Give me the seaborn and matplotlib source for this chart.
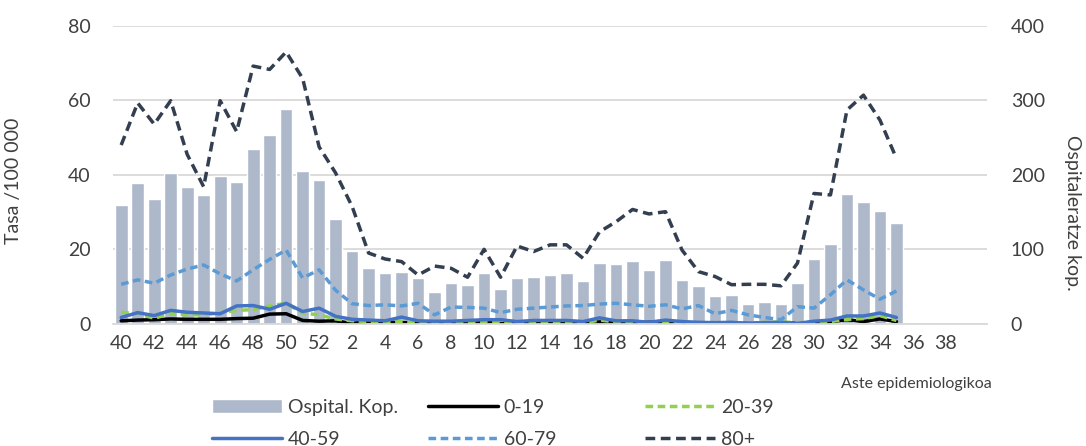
import numpy as np
import pandas as pd
import matplotlib
matplotlib.use('Agg')
import matplotlib.pyplot as plt
import seaborn as sns

# epidemiological weeks: 2020 w40-52, 2021 w1-39
weeks = [str(w) for w in list(range(40, 53)) + list(range(1, 40))]

# hospital admissions (right axis), weeks 40 .. 35
hosp = [160, 189, 167, 202, 184, 173, 198, 191, 235, 254, 289, 205, 193,
        141, 98, 75, 68, 70, 62, 43, 55, 52, 68, 47, 61, 63, 65, 68, 58,
        82, 80, 84, 72, 86, 59, 51, 37, 39, 27, 29, 27, 55, 87, 107, 174,
        164, 151, 136]

# rate per 100 000 by age group (left axis)
r0_19 = [0.8, 1, 1.1, 1.3, 1.2, 1.2, 1.2, 1.4, 1.5, 2.6, 2.7, 0.9, 0.7,
         0.8, 0.1, 0.6, 0.5, 0.3, 0.3, 0.1, 0.1, 0, 0.5, 0, 0.1, 0.1, 0.2,
         0.2, 0.1, 0.5, 0.4, 0.3, 0.4, 0.4, 0.3, 0.2, 0.1, 0.1, 0.1, 0.2,
         0.3, 0.1, 0.2, 0.5, 1.1, 0.6, 1.3, 0.6]
r20_39 = [3.1, 2.7, 1.5, 2.7, 2.4, 2.4, 3, 3.6, 3.8, 4.8, 5.5, 2.9, 2.4,
          1.3, 0.8, 0.6, 0.4, 0.6, 0.2, 0, 0, 0.2, 0.6, 0.3, 0, 0.2, 0.3,
          0.2, 0.2, 1, 0.5, 0.3, 0.2, 0.5, 0.3, 0.3, 0.3, 0.3, 0.1, 0.4,
          0.5, 0.3, 0.4, 0.6, 1.2, 1.4, 2.2, 0.9]
r40_59 = [1.7, 3, 2.2, 3.6, 3.1, 2.9, 2.7, 4.8, 4.9, 3.9, 5.5, 3.3, 4.2,
          2, 1.2, 1, 0.8, 1.8, 0.8, 0.7, 0.7, 0.9, 1.1, 1.1, 0.6, 0.9, 0.9,
          0.9, 0.6, 1.6, 0.8, 0.8, 0.4, 1, 0.6, 0.4, 0.3, 0.4, 0.1, 0.3,
          0.4, 0.1, 0.7, 1, 2.1, 2.1, 2.9, 1.7]
r60_79 = [10.6, 11.8, 10.9, 13.1, 14.7, 15.8, 13.4, 11.5, 14.5, 17.3, 19.8,
          12.3, 14.5, 9, 5.4, 4.9, 5.1, 4.8, 5.5, 2.4, 4.5, 4.4, 4.2, 3,
          3.9, 4.2, 4.5, 4.8, 4.9, 5.3, 5.5, 5.1, 4.7, 5.1, 4, 4.9, 2.7,
          3.6, 2.4, 1.7, 1.1, 4.6, 4.2, 7.8, 11.8, 9.1, 6.6, 8.8]
r80 = [48, 59.3, 53.6, 59.9, 45.5, 36.8, 59.9, 51.6, 69.2, 68.3, 73, 65.9,
       47.5, 40.5, 31.5, 19, 17.4, 16.7, 13.1, 15.5, 14.9, 12.5, 20, 12.5,
       20.9, 19.4, 21.2, 21.2, 17.6, 24.7, 27.4, 30.7, 29.5, 30.1, 19.8, 14,
       12.7, 10.5, 10.6, 10.6, 10.2, 16.3, 35, 34.6, 57.4, 61.4, 54.7, 44.4]

series = [('0-19', r0_19, 'black', '-'),
          ('20-39', r20_39, '#92d050', (0, (2.2, 1.3))),
          ('40-59', r40_59, '#4472c4', '-'),
          ('60-79', r60_79, '#5b9bd5', (0, (2.2, 1.3))),
          ('80+', r80, '#333f50', (0, (2.8, 1.6)))]

sns.set_style('white')
plt.rcParams['font.family'] = ['Lato', 'DejaVu Sans']
txt = '#404040'

fig, ax = plt.subplots(figsize=(10.86, 4.46), dpi=100)
fig.subplots_adjust(left=0.104, right=0.909, top=0.942, bottom=0.274)
ax2 = ax.twinx()

n = len(hosp)
df = pd.DataFrame({'week': weeks[:n], 'pos': np.arange(n), 'hosp': hosp})

# bars on the right axis
sns.barplot(data=df, x='week', y='hosp', order=weeks, ax=ax2,
            color='#adb9ca', saturation=1, width=0.77, label='Ospital. Kop.')

# lines on the left axis
for name, vals, col, ls in series:
    sns.lineplot(x=df['pos'], y=vals, ax=ax, color=col, linewidth=2.5,
                 linestyle=ls, label=name)

ax.set_zorder(ax2.get_zorder() + 1)
ax.patch.set_visible(False)

ax.set_ylim(0, 80)
ax2.set_ylim(0, 400)
ax.set_yticks([0, 20, 40, 60, 80])
ax2.set_yticks([0, 100, 200, 300, 400])
ax.set_xticks(np.arange(0, len(weeks), 2))
ax.set_xticklabels(weeks[::2])
ax.set_xlim(-0.5, 52.5)

ax2.yaxis.grid(True, color='#d9d9d9', linewidth=1.3)
ax2.set_axisbelow(True)
for a in (ax, ax2):
    for s in a.spines.values():
        s.set_visible(False)
ax.spines['bottom'].set_visible(True)
ax.spines['bottom'].set_color('#d9d9d9')
ax.spines['bottom'].set_linewidth(1.3)

ax.tick_params(axis='y', length=0, pad=16, labelsize=14, labelcolor=txt)
ax.tick_params(axis='x', length=0, pad=8, labelsize=14, labelcolor=txt)
ax2.tick_params(axis='y', length=0, pad=17, labelsize=14, labelcolor=txt)

ax.set_ylabel('Tasa /100 000', fontsize=14, color=txt)
ax.yaxis.set_label_coords(-0.1035, 0.48)
ax2.set_ylabel('Ospitaleratze kop.', fontsize=14, color=txt, rotation=270,
               va='center')
ax2.yaxis.set_label_coords(1.098, 0.372)
ax2.set_xlabel('')
ax.set_xlabel('Aste epidemiologikoa', fontsize=11.5, color=txt)
ax.xaxis.set_label_coords(0.919, -0.18)

# legend: three columns, placed separately so columns are evenly spaced
h1, l1 = ax.get_legend_handles_labels()
h2, l2 = ax2.get_legend_handles_labels()
if ax.get_legend():
    ax.get_legend().remove()
if ax2.get_legend():
    ax2.get_legend().remove()
hd = dict(zip(l1 + l2, h1 + h2))
cols = [['Ospital. Kop.', '40-59'], ['0-19', '60-79'], ['20-39', '80+']]
xs = [212, 428, 645]
for names, x0 in zip(cols, xs):
    fig.legend([hd[k] for k in names], names, loc='upper left',
               bbox_to_anchor=(x0 / 1086, 1 - 399 / 446), frameon=False,
               fontsize=14, handlelength=3.6, handletextpad=0.3,
               borderpad=0, borderaxespad=0, labelspacing=0.75,
               labelcolor=txt)

fig.savefig('out.png', dpi=100)
